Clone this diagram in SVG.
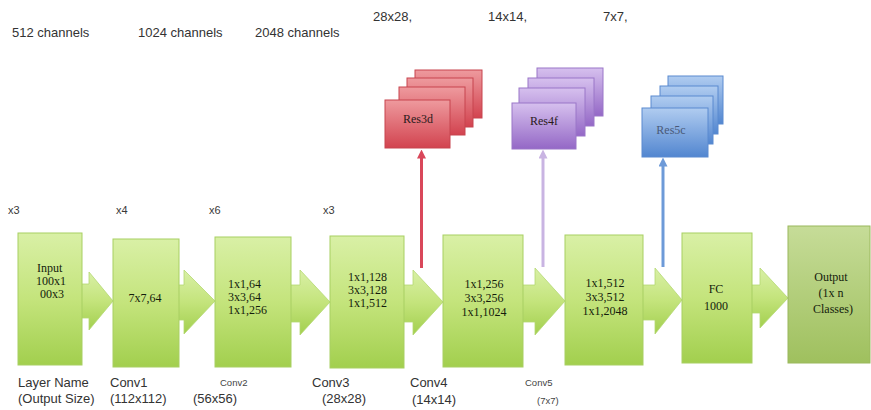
<svg xmlns="http://www.w3.org/2000/svg" width="871" height="410" viewBox="0 0 871 410">
<defs>
<linearGradient id="gG" x1="0" y1="0" x2="0" y2="1">
<stop offset="0" stop-color="#d9f0a6"/><stop offset="0.5" stop-color="#c4e47c"/><stop offset="1" stop-color="#a2cf4e"/>
</linearGradient>
<linearGradient id="gO" x1="0" y1="0" x2="0" y2="1">
<stop offset="0" stop-color="#c6dc98"/><stop offset="1" stop-color="#9fc05e"/>
</linearGradient>
<linearGradient id="gR" x1="0" y1="0" x2="0" y2="1">
<stop offset="0" stop-color="#ee9a9e"/><stop offset="1" stop-color="#d2434f"/>
</linearGradient>
<linearGradient id="gP" x1="0" y1="0" x2="0" y2="1">
<stop offset="0" stop-color="#d6c0ee"/><stop offset="1" stop-color="#9468c6"/>
</linearGradient>
<linearGradient id="gB" x1="0" y1="0" x2="0" y2="1">
<stop offset="0" stop-color="#b0ccf0"/><stop offset="1" stop-color="#5286d0"/>
</linearGradient>
<marker id="mR" viewBox="0 0 10 10" refX="5" refY="5" markerWidth="3" markerHeight="3" orient="auto"><path d="M0,0 L10,5 L0,10 z" fill="#d9475a"/></marker>
<marker id="mP" viewBox="0 0 10 10" refX="5" refY="5" markerWidth="3" markerHeight="3" orient="auto"><path d="M0,0 L10,5 L0,10 z" fill="#c9b4e2"/></marker>
<marker id="mB" viewBox="0 0 10 10" refX="5" refY="5" markerWidth="3" markerHeight="3" orient="auto"><path d="M0,0 L10,5 L0,10 z" fill="#6d9ad8"/></marker>
</defs>
<style>
.box{fill:url(#gG);stroke:#a8cf62;stroke-width:1}
.out{fill:url(#gO);stroke:#9ab85c;stroke-width:1}
.arr{fill:url(#gG);stroke:#b4d872;stroke-width:0.8}
.t{font-family:"Liberation Serif","Times New Roman",serif;font-size:12px;fill:#141c0c}
.s{font-family:"Liberation Sans",Arial,sans-serif;font-size:13px;fill:#333}
.sm{font-family:"Liberation Sans",Arial,sans-serif;font-size:9.5px;fill:#444}
.rep{font-family:"Liberation Sans",Arial,sans-serif;font-size:11px;fill:#3a3a3a}
.red{fill:url(#gR);stroke:#c7444f;stroke-width:1}
.pur{fill:url(#gP);stroke:#9a76c8;stroke-width:1}
.blu{fill:url(#gB);stroke:#5a8ad0;stroke-width:1}
.rt{font-family:"Liberation Serif","Times New Roman",serif;font-size:12px;fill:#2a1a1a}
.c{text-anchor:middle}
</style>
<rect width="871" height="410" fill="#ffffff"/>

<!-- top labels -->
<g id="top-labels">
<text class="s" x="12" y="37">512 channels</text>
<text class="s" x="138" y="37">1024 channels</text>
<text class="s" x="255" y="37">2048 channels</text>
<text class="s" x="373" y="21">28x28,</text>
<text class="s" x="488" y="21">14x14,</text>
<text class="s" x="603" y="21">7x7,</text>
</g>

<g id="repeats">
<text class="rep" x="8" y="214">x3</text>
<text class="rep" x="116" y="214">x4</text>
<text class="rep" x="209" y="214">x6</text>
<text class="rep" x="323" y="214">x3</text>
</g>

<!-- connectors -->
<g id="connectors">
<polygon class="arr" points="81,284 89,284 89,272 113,301 89,330 89,318 81,318"/>
<polygon class="arr" points="178,285 184,285 184,270 215,301 184,334 184,320 178,320"/>
<polygon class="arr" points="290,285 300,285 300,270 330,302 300,335 300,322 290,322"/>
<polygon class="arr" points="403,285 413,285 413,270 443,302 413,335 413,322 403,322"/>
<polygon class="arr" points="522,285 535,285 535,268 565,301 535,335 535,322 522,322"/>
<polygon class="arr" points="642,285 655,285 655,268 682,300 655,334 655,320 642,320"/>
<polygon class="arr" points="751,285 760,285 760,268 788,298 760,328 760,313 751,313"/>
<line x1="421.5" y1="268" x2="421.5" y2="154" stroke="#d9475a" stroke-width="3" marker-end="url(#mR)"/>
<line x1="543" y1="267" x2="543" y2="154" stroke="#c9b4e2" stroke-width="3" marker-end="url(#mP)"/>
<line x1="663" y1="267" x2="663" y2="162" stroke="#6d9ad8" stroke-width="3" marker-end="url(#mB)"/>
</g>

<!-- main nodes -->
<g id="input">
<rect class="box" x="18" y="233" width="64" height="132"/>
<text class="t" x="37" y="272">Input</text>
<text class="t" x="36" y="285">100x1</text>
<text class="t" x="40" y="298">00x3</text>
</g>
<g id="conv1">
<rect class="box" x="113" y="239" width="66" height="128"/>
<text class="t c" x="145" y="302">7x7,64</text>
</g>
<g id="conv2">
<rect class="box" x="215" y="237" width="76" height="130"/>
<text class="t" x="228" y="288">1x1,64</text>
<text class="t" x="228" y="301">3x3,64</text>
<text class="t" x="228" y="314">1x1,256</text>
</g>
<g id="conv3">
<rect class="box" x="330" y="236" width="74" height="132"/>
<text class="t" x="348" y="281">1x1,128</text>
<text class="t" x="348" y="294">3x3,128</text>
<text class="t" x="348" y="307">1x1,512</text>
</g>
<g id="conv4">
<rect class="box" x="443" y="235" width="80" height="132"/>
<text class="t c" x="484" y="288">1x1,256</text>
<text class="t c" x="484" y="302">3x3,256</text>
<text class="t c" x="484" y="316">1x1,1024</text>
</g>
<g id="conv5">
<rect class="box" x="565" y="235" width="78" height="130"/>
<text class="t c" x="605" y="287">1x1,512</text>
<text class="t c" x="605" y="301">3x3,512</text>
<text class="t c" x="605" y="315">1x1,2048</text>
</g>
<g id="fc">
<rect class="box" x="682" y="233" width="70" height="130"/>
<text class="t c" x="716" y="293">FC</text>
<text class="t c" x="716" y="310">1000</text>
</g>
<g id="output">
<rect class="out" x="788" y="226" width="82" height="137"/>
<text class="t c" x="831" y="281">Output</text>
<text class="t c" x="831" y="297">(1x n</text>
<text class="t c" x="833" y="313">Classes)</text>
</g>

<!-- residual stacks -->
<g id="res3d">
<rect class="red" x="415" y="70" width="67" height="48"/>
<rect class="red" x="407" y="78" width="66" height="49"/>
<rect class="red" x="399" y="87" width="66" height="48"/>
<rect class="red" x="385" y="100" width="65" height="48"/>
<text class="rt c" x="418" y="123">Res3d</text>
</g>
<g id="res4f">
<rect class="pur" x="537" y="68" width="66" height="48"/>
<rect class="pur" x="528" y="78" width="66" height="48"/>
<rect class="pur" x="519" y="88" width="66" height="48"/>
<rect class="pur" x="512" y="103" width="64" height="46"/>
<text class="rt c" x="544" y="125">Res4f</text>
</g>
<g id="res5c">
<rect class="blu" x="668" y="76" width="55" height="48"/>
<rect class="blu" x="660" y="86" width="58" height="48"/>
<rect class="blu" x="651" y="96" width="62" height="48"/>
<rect class="blu" x="642" y="108" width="66" height="49"/>
<text class="rt c" x="671" y="134" style="fill:#4a5a78">Res5c</text>
</g>

<!-- bottom labels -->
<g id="bottom-labels">
<text class="s" x="18" y="387">Layer Name</text>
<text class="s" x="18" y="403">(Output Size)</text>
<text class="s" x="110" y="387">Conv1</text>
<text class="s" x="110" y="403">(112x112)</text>
<text class="sm" x="220" y="386">Conv2</text>
<text class="s" x="193" y="403">(56x56)</text>
<text class="s" x="312" y="387">Conv3</text>
<text class="s" x="322" y="403">(28x28)</text>
<text class="s" x="410" y="387">Conv4</text>
<text class="s" x="412" y="404">(14x14)</text>
<text class="sm" x="525" y="386">Conv5</text>
<text class="sm" x="537" y="404">(7x7)</text>
</g>
</svg>
